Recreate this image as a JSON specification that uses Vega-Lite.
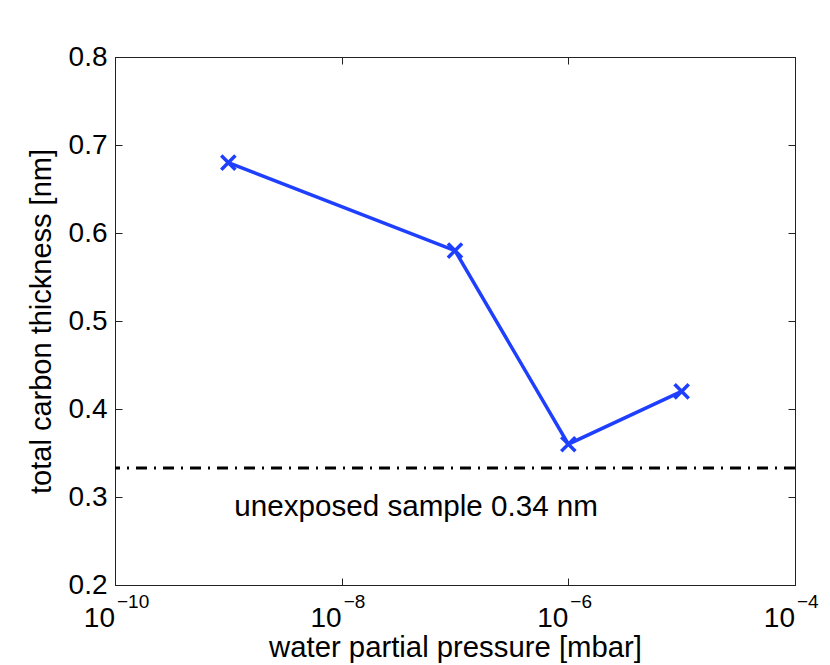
{
  "$schema": "https://vega.github.io/schema/vega-lite/v6.json",
  "width": 680,
  "height": 528,
  "autosize": {"type": "none"},
  "padding": {"left": 115, "top": 57, "right": 35, "bottom": 80},
  "background": "white",
  "datasets": {
    "carbon": [
      {"pressure": 1e-9, "thickness": 0.68},
      {"pressure": 1e-7, "thickness": 0.58},
      {"pressure": 1e-6, "thickness": 0.36},
      {"pressure": 1e-5, "thickness": 0.42}
    ],
    "reference": [
      {"level": 0.333, "label": "unexposed sample 0.34 nm"}
    ],
    "xticks": [
      {"v": 1e-10, "exp": "−10"},
      {"v": 1e-8, "exp": "−8"},
      {"v": 1e-6, "exp": "−6"},
      {"v": 1e-4, "exp": "−4"}
    ]
  },
  "layer": [
    {
      "data": {"name": "carbon"},
      "encoding": {
        "x": {
          "field": "pressure",
          "type": "quantitative",
          "scale": {"type": "log", "domain": [1e-10, 1e-4], "nice": false},
          "axis": {
            "orient": "bottom",
            "values": [1e-10, 1e-8, 1e-6, 1e-4],
            "labels": false,
            "tickSize": -7,
            "title": "water partial pressure [mbar]",
            "titleFontSize": 29.3,
            "titlePadding": 48
          }
        },
        "y": {
          "field": "thickness",
          "type": "quantitative",
          "scale": {"domain": [0.2, 0.8], "nice": false, "zero": false},
          "axis": {
            "orient": "left",
            "values": [0.2, 0.3, 0.4, 0.5, 0.6, 0.7, 0.8],
            "format": ".1f",
            "tickSize": -7,
            "labelPadding": 15,
            "title": "total carbon thickness [nm]",
            "titleFontSize": 29,
            "titlePadding": 12
          }
        }
      },
      "layer": [
        {"mark": {"type": "line", "color": "#1f3fff", "strokeWidth": 3.5}},
        {
          "mark": {
            "type": "point",
            "shape": "M-1,-1L1,1M-1,1L1,-1",
            "filled": false,
            "stroke": "#1f3fff",
            "strokeWidth": 3.5,
            "size": 200,
            "opacity": 1
          }
        }
      ]
    },
    {
      "data": {"name": "carbon"},
      "mark": {"type": "point", "opacity": 0},
      "encoding": {
        "x": {
          "field": "pressure",
          "type": "quantitative",
          "axis": {
            "orient": "top",
            "values": [1e-10, 1e-8, 1e-6, 1e-4],
            "labels": false,
            "tickSize": -7,
            "title": null
          }
        },
        "y": {
          "field": "thickness",
          "type": "quantitative",
          "axis": {
            "orient": "right",
            "values": [0.2, 0.3, 0.4, 0.5, 0.6, 0.7, 0.8],
            "labels": false,
            "tickSize": -7,
            "title": null
          }
        }
      }
    },
    {
      "data": {"name": "reference"},
      "mark": {"type": "rule", "color": "black", "strokeWidth": 3, "strokeDash": [11, 7, 2, 7]},
      "encoding": {
        "y": {"field": "level", "type": "quantitative", "axis": null}
      }
    },
    {
      "data": {"name": "reference"},
      "mark": {"type": "text", "align": "left", "baseline": "alphabetic", "fontSize": 29.6, "font": "Liberation Sans", "color": "black"},
      "encoding": {
        "x": {"datum": 1.13e-9, "type": "quantitative", "axis": null},
        "y": {"datum": 0.278, "type": "quantitative", "axis": null},
        "text": {"field": "label"}
      }
    },
    {
      "data": {"name": "xticks"},
      "mark": {"type": "text", "align": "right", "baseline": "alphabetic", "dy": 42, "fontSize": 28, "font": "Liberation Sans", "color": "black"},
      "encoding": {
        "x": {"field": "v", "type": "quantitative", "axis": null},
        "y": {"datum": 0.2, "type": "quantitative", "axis": null},
        "text": {"value": "10"}
      }
    },
    {
      "data": {"name": "xticks"},
      "mark": {"type": "text", "align": "left", "baseline": "alphabetic", "dx": 2, "dy": 23, "fontSize": 19, "font": "Liberation Sans", "color": "black"},
      "encoding": {
        "x": {"field": "v", "type": "quantitative", "axis": null},
        "y": {"datum": 0.2, "type": "quantitative", "axis": null},
        "text": {"field": "exp"}
      }
    }
  ],
  "resolve": {"axis": {"x": "independent", "y": "independent"}},
  "config": {
    "font": "Liberation Sans",
    "view": {"stroke": "#222", "strokeWidth": 1},
    "axis": {
      "grid": false,
      "domainColor": "#222",
      "tickColor": "#222",
      "labelColor": "black",
      "labelFont": "Liberation Sans",
      "labelFontSize": 28,
      "titleFont": "Liberation Sans",
      "titleFontSize": 28,
      "titleFontWeight": "normal",
      "titleColor": "black"
    }
  }
}
